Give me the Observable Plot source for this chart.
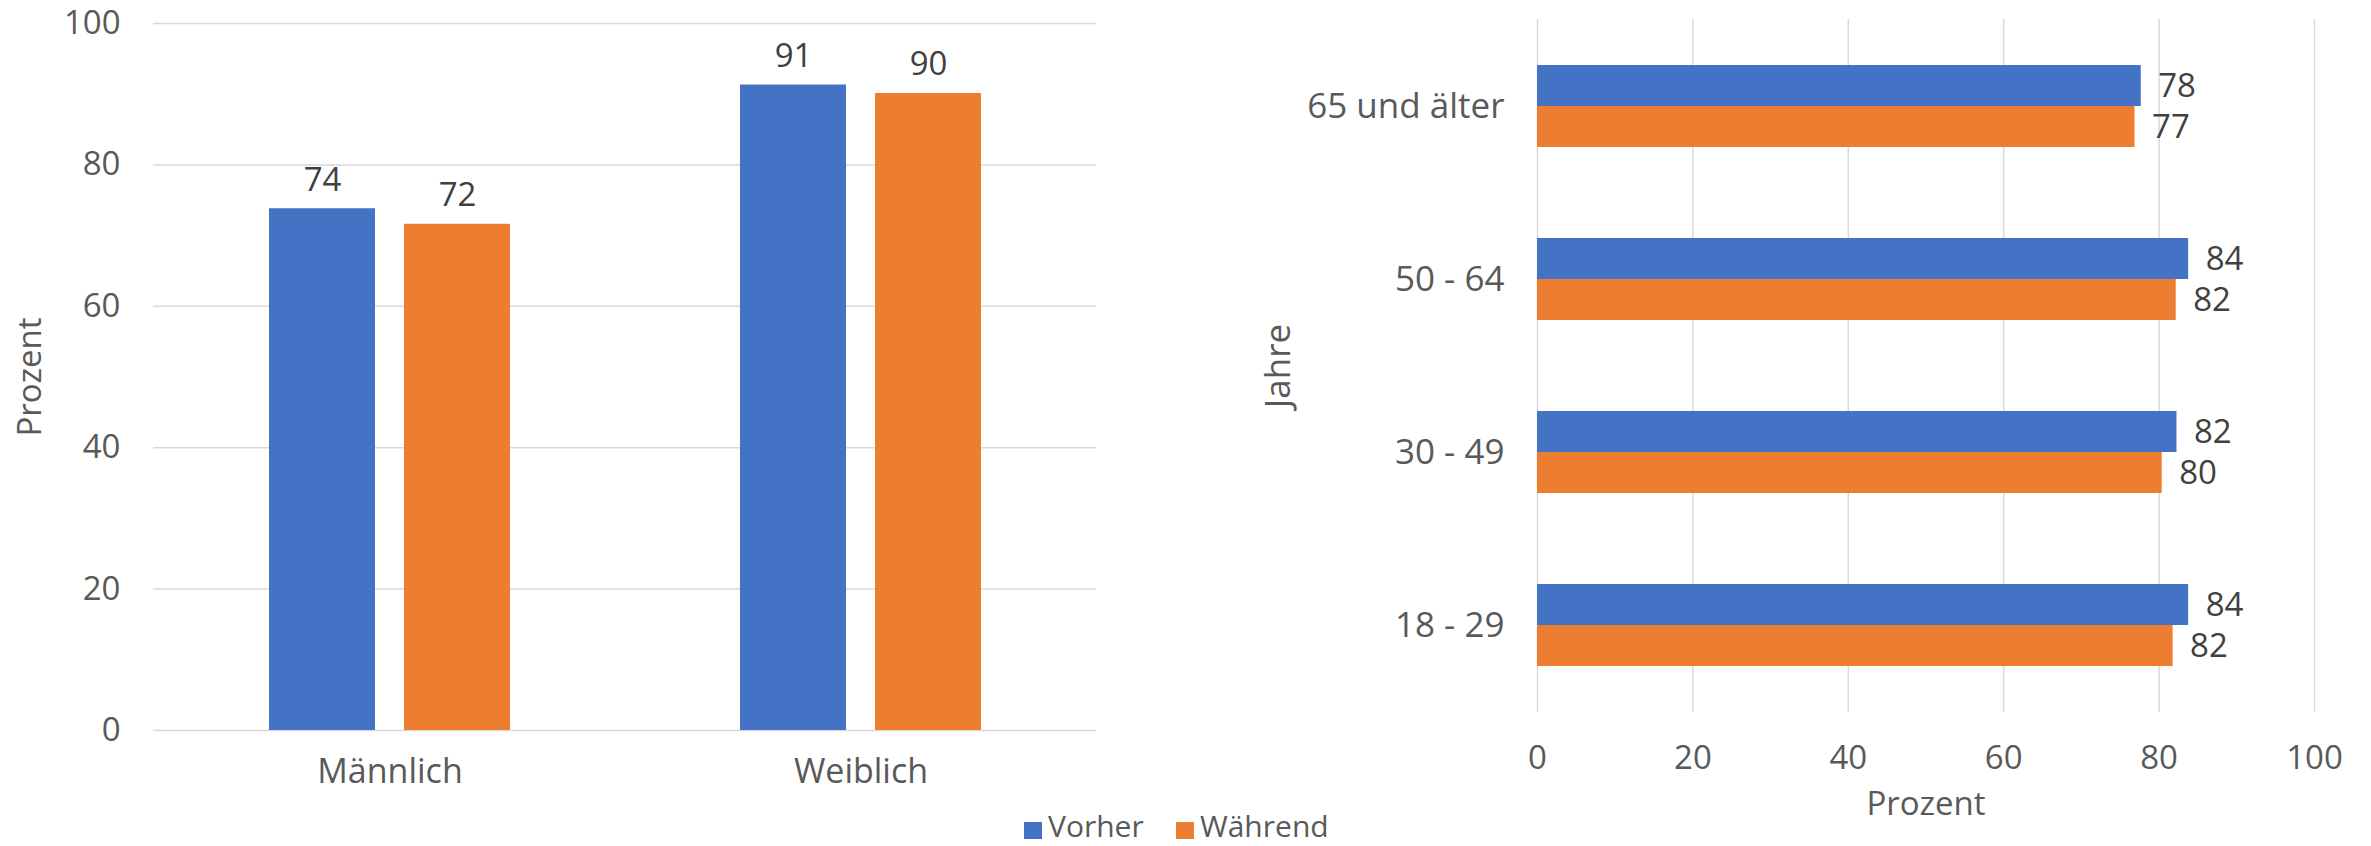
<!DOCTYPE html>
<html>
<head>
<meta charset="utf-8">
<script src="https://cdn.jsdelivr.net/npm/d3@7"></script>
<script src="https://cdn.jsdelivr.net/npm/@observablehq/plot@0.6"></script>
<style>
  html, body { margin: 0; padding: 0; background: #ffffff; }
  body { width: 2371px; height: 846px; overflow: hidden; font-family: "Open Sans", sans-serif; }
  #charts { display: flex; width: 2371px; height: 818px; }
  #charts > * { flex: none; }
  #legend { position: relative; width: 2371px; height: 28px; }
  .item { position: absolute; top: 0; height: 28px; display: flex; align-items: flex-start; color: #595959; font-size: 30px; line-height: 28px; }
  .sw { width: 18px; height: 17px; margin-top: 4px; margin-right: 6px; }
  .lbl { position: relative; top: -6px; white-space: nowrap; }
</style>
</head>
<body>
<div id="charts"></div>
<div id="legend"></div>
<script>
// ---- data ----
const series = ["Vorher", "Während"];
const seriesColors = ["#4472C4", "#ED7D31"];

const genders = ["Männlich", "Weiblich"];
const genderVorher = [73.8, 91.3];
const genderWaehrend = [71.6, 90.1];

const ages = ["65 und älter", "50 - 64", "30 - 49", "18 - 29"];
const ageVorher = [77.7, 83.8, 82.3, 83.8];
const ageWaehrend = [76.9, 82.2, 80.4, 81.8];

const valueTicks = [0, 20, 40, 60, 80, 100];
const valueTitle = "Prozent";
const ageTitle = "Jahre";

// ---- tables ----
const genderV = genders.map((c, i) => ({cat: c, series: series[0], value: genderVorher[i]}));
const genderW = genders.map((c, i) => ({cat: c, series: series[1], value: genderWaehrend[i]}));
const ageV = ages.map((c, i) => ({cat: c, series: series[0], value: ageVorher[i]}));
const ageW = ages.map((c, i) => ({cat: c, series: series[1], value: ageWaehrend[i]}));

const fmt = d3.format(".0f");
const font = '"Open Sans", sans-serif';
const gridStyle = {stroke: "#d9d9d9", strokeOpacity: 1, strokeWidth: 1.5};

const left = Plot.plot({
  width: 1200, height: 818,
  marginLeft: 153, marginRight: 104, marginTop: 23, marginBottom: 88,
  style: {fontFamily: font, fontSize: "33px", color: "#595959", background: "#ffffff", overflow: "visible"},
  x: {domain: genders, paddingInner: 0.489, paddingOuter: 0.2445, axis: null},
  y: {domain: [0, 100], axis: null},
  color: {domain: series, range: seriesColors},
  marks: [
    Plot.gridY({ticks: valueTicks, ...gridStyle}),
    Plot.barY(genderV, {x: "cat", y: "value", fill: "series", insetRight: 135}),
    Plot.barY(genderW, {x: "cat", y: "value", fill: "series", insetLeft: 135}),
    Plot.text(genderV, {x: "cat", y: "value", text: d => fmt(d.value), dx: -67.5, dy: -18, lineAnchor: "bottom", fill: "#404040", fontSize: 33}),
    Plot.text(genderW, {x: "cat", y: "value", text: d => fmt(d.value), dx: 67.5, dy: -18, lineAnchor: "bottom", fill: "#404040", fontSize: 33}),
    Plot.axisY({ticks: valueTicks, tickSize: 0, tickPadding: 33, fontSize: 33, label: valueTitle, labelAnchor: "center", labelOffset: 136, labelArrow: false}),
    Plot.axisX({tickSize: 0, tickPadding: 28, fontSize: 34, label: null})
  ]
});

const right = Plot.plot({
  width: 1171, height: 818,
  marginLeft: 337, marginRight: 57, marginTop: 19, marginBottom: 106,
  style: {fontFamily: font, fontSize: "33px", color: "#595959", background: "#ffffff", overflow: "visible"},
  x: {domain: [0, 100], axis: null},
  y: {domain: ages, paddingInner: 0.525, paddingOuter: 0.2625, axis: null},
  color: {domain: series, range: seriesColors},
  marks: [
    Plot.gridX({ticks: valueTicks, ...gridStyle}),
    Plot.barX(ageV, {y: "cat", x: "value", fill: "series", insetBottom: 41}),
    Plot.barX(ageW, {y: "cat", x: "value", fill: "series", insetTop: 41}),
    Plot.text(ageV, {y: "cat", x: "value", text: d => fmt(d.value), textAnchor: "start", dx: 17, dy: -20, fill: "#404040", fontSize: 33}),
    Plot.text(ageW, {y: "cat", x: "value", text: d => fmt(d.value), textAnchor: "start", dx: 17, dy: 21, fill: "#404040", fontSize: 33}),
    Plot.axisX({ticks: valueTicks, tickSize: 0, tickPadding: 33, fontSize: 33, label: valueTitle, labelAnchor: "center", labelOffset: 102, labelArrow: false}),
    Plot.axisY({tickSize: 0, tickPadding: 33, fontSize: 35, label: ageTitle, labelAnchor: "center", labelOffset: 272, labelArrow: false})
  ]
});

document.getElementById("charts").append(left, right);

// ---- legend ----
const legend = document.getElementById("legend");
const legendLefts = [1024, 1176];
series.forEach((s, i) => {
  const item = document.createElement("div");
  item.className = "item";
  item.style.left = legendLefts[i] + "px";
  const sw = document.createElement("span");
  sw.className = "sw";
  sw.style.background = seriesColors[i];
  const lbl = document.createElement("span");
  lbl.className = "lbl";
  lbl.textContent = s;
  item.append(sw, lbl);
  legend.append(item);
});
</script>
</body>
</html>
